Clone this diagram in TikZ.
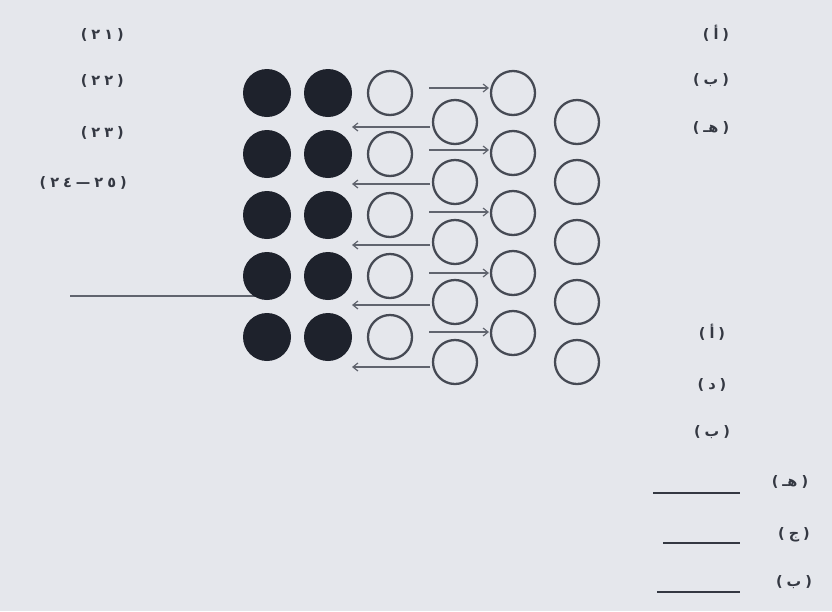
\documentclass[tikz,border=0pt]{standalone}
\usepackage{fontspec}
\newfontfamily\arabicfont[Script=Arabic]{DejaVu Sans}
\newfontfamily\plainfont{DejaVu Sans}
\usetikzlibrary{arrows.meta}
\definecolor{bg}{RGB}{229,231,236}
\definecolor{ink}{RGB}{52,56,66}
\definecolor{dark}{RGB}{30,34,44}
\definecolor{ring}{RGB}{70,74,84}
\definecolor{arr}{RGB}{96,100,110}
\newcommand{\gap}{\kern4pt}
\newcommand{\lpar}{{\plainfont\bfseries(}\gap}
\newcommand{\rpar}{\gap{\plainfont\bfseries)}}
\begin{document}
\begin{tikzpicture}[x=1pt,y=-1pt,
  lbl/.style={font=\arabicfont\bfseries\fontsize{14.5}{16}\selectfont, text=ink, inner sep=0pt},
  solidball/.style={circle, fill=dark, minimum size=48pt, inner sep=0pt},
  hollowball/.style={circle, draw=ring, line width=2.3pt, fill=bg, minimum size=44pt, inner sep=0pt},
  arrowline/.style={draw=arr, line width=1.2pt, -{Straight Barb[length=5pt,width=8pt]}},
  rule/.style={draw=ink, line width=1.8pt},
  leftrule/.style={draw=arr, line width=1.5pt}]
\fill[bg] (0,0) rectangle (832,611);
\useasboundingbox (0,0) rectangle (832,611);

% left labels
\node[lbl, anchor=east] (n21) at (124,35) {\lpar ٢\gap١\rpar};
\node[lbl, anchor=east] (n22) at (124,81) {\lpar ٢\gap٢\rpar};
\node[lbl, anchor=east] (n23) at (124,133) {\lpar ٢\gap٣\rpar};
\node[lbl, anchor=east] (n24) at (127,183) {\lpar ٢\gap٤\gap{\plainfont\bfseries —}\gap٢\gap٥\rpar};

% left line (behind the balls)
\coordinate (lineL) at (70,296);
\coordinate (lineR) at (267,296);
\draw[leftrule] (lineL) -- (lineR);

% arrows
\foreach \i/\y in {1/88,2/150,3/212,4/273,5/332}{
  \coordinate (rs\i) at (429,\y);
  \coordinate (re\i) at (489,\y);
  \draw[arrowline] (rs\i) -- (re\i);
}
\foreach \i/\y in {1/127,2/184,3/245,4/305,5/367}{
  \coordinate (ls\i) at (430,\y);
  \coordinate (le\i) at (352,\y);
  \draw[arrowline] (ls\i) -- (le\i);
}

% balls
\foreach \i/\y in {1/93,2/154,3/215,4/276,5/337}{
  \node[solidball] (a\i) at (267,\y) {};
  \node[solidball] (b\i) at (328,\y) {};
  \node[hollowball] (c\i) at (390,\y) {};
}
\foreach \i/\y in {1/122,2/182,3/242,4/302,5/362}{
  \node[hollowball] (d\i) at (455,\y) {};
  \node[hollowball] (f\i) at (577,\y) {};
}
\foreach \i/\y in {1/93,2/153,3/213,4/273,5/333}{
  \node[hollowball] (e\i) at (513,\y) {};
}

% right labels
\node[lbl] (r1) at (716,33) {\lpar أ\rpar};
\node[lbl] (r2) at (711,80) {\lpar ب\rpar};
\node[lbl] (r3) at (711,128) {\lpar هـ\rpar};
\node[lbl] (r4) at (712,332) {\lpar أ\rpar};
\node[lbl] (r5) at (712,385) {\lpar د\rpar};
\node[lbl] (r6) at (712,432) {\lpar ب\rpar};
\node[lbl] (r7) at (790,482) {\lpar هـ\rpar};
\node[lbl] (r8) at (794,535) {\lpar ج\rpar};
\node[lbl] (r9) at (794,582) {\lpar ب\rpar};

% answer lines
\coordinate (u1) at (653,493); \coordinate (v1) at (740,493);
\coordinate (u2) at (663,543); \coordinate (v2) at (740,543);
\coordinate (u3) at (657,592); \coordinate (v3) at (740,592);
\draw[rule] (u1) -- (v1);
\draw[rule] (u2) -- (v2);
\draw[rule] (u3) -- (v3);
\end{tikzpicture}
\end{document}
